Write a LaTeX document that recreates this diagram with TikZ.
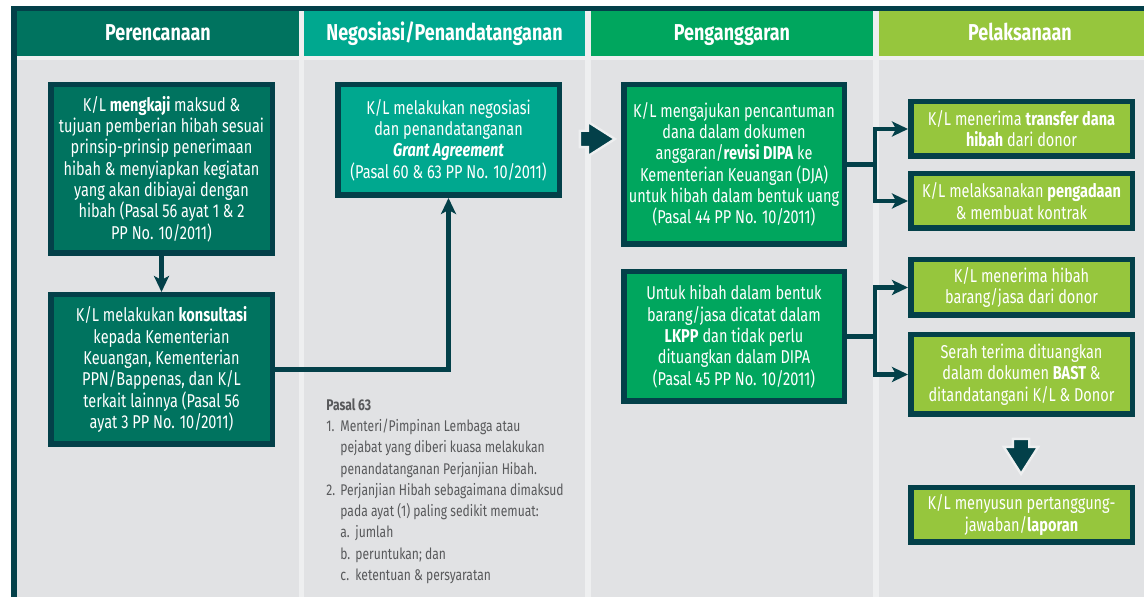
\documentclass[tikz,border=0pt]{standalone}
\usepackage{fontspec}
\setmainfont{Fira Sans}[FakeStretch=0.78]
\usepackage{tikz}
\usetikzlibrary{arrows.meta, positioning, calc, shapes.arrows}
\usepackage{xcolor}

\definecolor{framecol}{RGB}{3,64,73}
\definecolor{plancol}{RGB}{0,115,95}
\definecolor{negocol}{RGB}{0,168,143}
\definecolor{budgcol}{RGB}{0,166,94}
\definecolor{execcol}{RGB}{150,198,61}
\definecolor{bodycol}{RGB}{225,226,228}
\definecolor{sepcol}{RGB}{238,239,240}
\definecolor{notecol}{RGB}{88,89,91}

\newcommand{\bxfont}{\fontsize{9.3}{10.65}\selectfont}
\newcommand{\hdfont}{\fontsize{11.5}{13}\selectfont\bfseries}
\newcommand{\ntfont}{\fontsize{7.75}{10.65}\selectfont}

\begin{document}
\begin{tikzpicture}[
  x=0.5pt, y=-0.5pt,
  head/.style = {minimum height=22.5pt, inner sep=0pt, text=white, font=\hdfont,
                 text height=8.4pt, text depth=1.2pt},
  box/.style  = {draw=framecol, line width=2.75pt, inner sep=0pt, text=white,
                 align=center, font=\bxfont, minimum width=110.75pt},
  arr/.style  = {draw=framecol, line width=2.2pt,
                 -{Stealth[length=8pt, width=7.5pt, inset=2pt]}},
  chev/.style = {single arrow, fill=framecol, draw=sepcol, line width=1.2pt,
                 inner sep=3.5pt, single arrow head extend=4.5pt,
                 single arrow tip angle=65, minimum height=17.5pt},
]
\useasboundingbox (0,0) rectangle (1144,597);
\clip (0,0) rectangle (1144,597);

% ── Background, columns and frame ────────────────────────────────────────────
\fill[sepcol]  (17,11)  rectangle (1144,597);
\fill[bodycol] (17,60)  rectangle (299,597);
\fill[bodycol] (304,60) rectangle (585,597);
\fill[bodycol] (591,60) rectangle (873,597);
\fill[bodycol] (879,60) rectangle (1144,597);
\fill[framecol] (11,6) rectangle (1144,11);
\fill[framecol] (11,6) rectangle (17,597);

% ── Headers ──────────────────────────────────────────────────────────────────
\node[head, fill=plancol, minimum width=141pt]   (h1) at (158,33.5)   {Perencanaan};
\node[head, fill=negocol, minimum width=140.5pt] (h2) at (444.5,33.5) {Negosiasi/Penandatanganan};
\node[head, fill=budgcol, minimum width=141pt]   (h3) at (732,33.5)   {Penganggaran};
\node[head, fill=execcol, minimum width=141pt]   (h4) at (1020,33.5)  {Pelaksanaan};

% ── Perencanaan ──────────────────────────────────────────────────────────────
\node[box, fill=plancol, minimum height=84.25pt] (kaji) at (161.5,169)
      {K/L \textbf{mengkaji} maksud \&\\tujuan pemberian hibah sesuai\\prinsip-prinsip penerimaan\\
       hibah \& menyiapkan kegiatan\\yang akan dibiayai dengan\\hibah (Pasal 56 ayat 1 \& 2\\PP No. 10/2011)};
\node[box, fill=plancol, minimum height=74.75pt] (kons) at (161.5,369.5)
      {K/L melakukan \textbf{konsultasi}\\kepada Kementerian\\Keuangan, Kementerian\\
       PPN/Bappenas, dan K/L\\terkait lainnya (Pasal 56\\ayat 3 PP No. 10/2011)};

\draw[arr] (kaji) -- (kons);

% ── Negosiasi ────────────────────────────────────────────────────────────────
\node[box, fill=negocol, minimum height=55.25pt] (nego) at (448.5,140)
      {K/L melakukan negosiasi\\dan penandatanganan\\\textbf{\textit{Grant Agreement}}\\(Pasal 60 \& 63 PP No. 10/2011)};

\draw[arr] (kons.east) -| (nego.south);

\node[anchor=north west, inner sep=0pt, align=left, font=\ntfont, text=notecol] (pasal) at (326,398)
      {\textbf{Pasal 63}\\
       \makebox[7pt][l]{1.}Menteri/Pimpinan Lembaga atau\\
       \hspace*{7pt}pejabat yang diberi kuasa melakukan\\
       \hspace*{7pt}penandatanganan Perjanjian Hibah.\\
       \makebox[7pt][l]{2.}Perjanjian Hibah sebagaimana dimaksud\\
       \hspace*{7pt}pada ayat (1) paling sedikit memuat:\\
       \hspace*{7pt}\makebox[7.5pt][l]{a.}jumlah\\
       \hspace*{7pt}\makebox[7.5pt][l]{b.}peruntukan; dan\\
       \hspace*{7pt}\makebox[7.5pt][l]{c.}ketentuan \& persyaratan};

\node[chev] (go1) at (591,139) {};

% ── Penganggaran ─────────────────────────────────────────────────────────────
\node[box, fill=budgcol, minimum width=110.25pt, minimum height=79.75pt] (angg) at (734,164.5)
      {K/L mengajukan pencantuman\\dana dalam dokumen\\anggaran/\textbf{revisi DIPA} ke\\
       Kementerian Keuangan (DJA)\\untuk hibah dalam bentuk uang\\(Pasal 44 PP No. 10/2011)};
\node[box, fill=budgcol, minimum width=110.25pt, minimum height=64.75pt] (lkpp) at (734,336.5)
      {Untuk hibah dalam bentuk\\barang/jasa dicatat dalam\\\textbf{LKPP} dan tidak perlu\\
       dituangkan dalam DIPA\\(Pasal 45 PP No. 10/2011)};

% ── Pelaksanaan ──────────────────────────────────────────────────────────────
\node[box, fill=execcol, minimum height=27.25pt] (trf)  at (1021.5,129)
      {K/L menerima \textbf{transfer dana}\\\textbf{hibah} dari donor};
\node[box, fill=execcol, minimum height=27.25pt] (pgd)  at (1021.5,201)
      {K/L melaksanakan \textbf{pengadaan}\\\& membuat kontrak};
\node[box, fill=execcol, minimum height=27.75pt] (brg)  at (1021.5,287.5)
      {K/L menerima hibah\\barang/jasa dari donor};
\node[box, fill=execcol, minimum height=39.75pt] (bast) at (1021.5,374.5)
      {Serah terima dituangkan\\dalam dokumen \textbf{BAST} \&\\ditandatangani K/L \& Donor};
\node[box, fill=execcol, minimum height=27.25pt] (lap)  at (1021.5,515)
      {K/L menyusun pertanggung-\\jawaban/\textbf{laporan}};

\draw[arr] (angg.east) -- ++(28,0) |- (trf.west);
\draw[arr] (angg.east) -- ++(28,0) |- (pgd.west);
\draw[arr] (lkpp.east) -- ++(28,0) |- (brg.west);
\draw[arr] (lkpp.east) -- ++(28,0) |- (bast.west);

\node[chev, shape border rotate=270] (go2) at (1021,450) {};

\end{tikzpicture}
\end{document}
